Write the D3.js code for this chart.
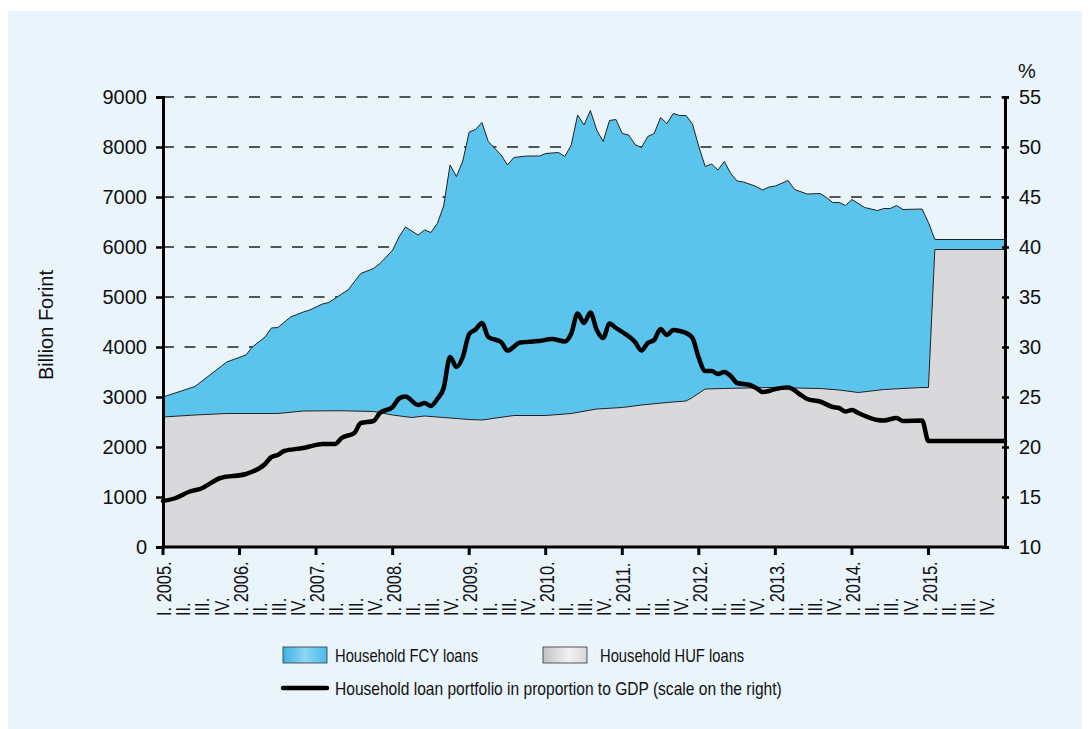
<!DOCTYPE html>
<html>
<head>
<meta charset="utf-8">
<script src="https://cdn.jsdelivr.net/npm/d3@7"></script>
<style>
  body { margin: 0; background: #fff; }
  svg { display: block; }
  .tick-label { font-family: "Liberation Sans", Arial, sans-serif; font-size: 20px; fill: #111; }
  .narrow { font-family: "Liberation Sans", Arial, sans-serif; fill: #111; }
</style>
</head>
<body>
<svg id="chart" width="1090" height="729"></svg>
<script>
// household loans, billion forint (FCY + HUF stacked -> total)
const totalMonths = ["2005-01","2005-06","2005-11","2006-02","2006-03","2006-05","2006-06","2006-07","2006-09","2006-11","2006-12",
  "2007-02","2007-03","2007-05","2007-06","2007-08","2007-10","2007-11","2007-12",
  "2008-01","2008-02","2008-03","2008-05","2008-06","2008-07","2008-08","2008-09","2008-10","2008-11","2008-12",
  "2009-01","2009-02","2009-03","2009-04","2009-06","2009-07","2009-08","2009-10","2009-12",
  "2010-01","2010-03","2010-04","2010-05","2010-06","2010-07","2010-08","2010-09","2010-10","2010-11","2010-12",
  "2011-01","2011-02","2011-03","2011-04","2011-05","2011-06","2011-07","2011-08","2011-09","2011-10","2011-11","2011-12",
  "2012-01","2012-02","2012-03","2012-04","2012-05","2012-06","2012-07","2012-08","2012-10","2012-11","2012-12",
  "2013-01","2013-03","2013-04","2013-06","2013-08","2013-09","2013-10","2013-11","2013-12",
  "2014-01","2014-03","2014-05","2014-06","2014-07","2014-08","2014-09","2014-12",
  "2015-01","2015-02","2016-01"];
const totalValues = [3000,3210,3700,3840,4000,4200,4380,4390,4600,4700,4740,
  4860,4890,5060,5140,5470,5570,5670,5800,
  5940,6200,6400,6240,6340,6290,6470,6820,7640,7410,7720,
  8300,8350,8490,8110,7840,7640,7790,7820,7820,
  7870,7890,7810,8040,8640,8440,8730,8340,8110,8530,8550,
  8270,8240,8050,7990,8210,8270,8590,8470,8670,8630,8630,8460,
  8010,7610,7660,7540,7710,7470,7320,7300,7210,7140,7200,
  7220,7330,7150,7060,7070,6990,6890,6890,6830,
  6950,6790,6730,6770,6770,6830,6750,6760,
  6490,6150,6150];

const hufMonths = ["2005-01","2005-06","2005-11","2006-07","2006-11","2007-05","2007-10","2008-01","2008-04","2008-06",
  "2009-01","2009-03","2009-08","2010-01","2010-05","2010-09","2011-01","2011-04","2011-08","2011-11","2011-12",
  "2012-02","2012-05","2012-12","2013-08","2013-11","2014-02","2014-06","2014-12","2015-01","2015-02","2016-01"];
const hufValues = [2600,2640,2670,2670,2720,2725,2710,2640,2590,2620,
  2550,2540,2630,2630,2670,2760,2790,2840,2890,2920,2990,
  3160,3170,3190,3170,3140,3090,3150,3190,3190,5950,5950];

// household loan portfolio / GDP, % (right scale)
const gdpMonths = ["2005-01","2005-03","2005-05","2005-07","2005-10","2006-02","2006-05","2006-06","2006-07","2006-08","2006-11","2006-12",
  "2007-02","2007-04","2007-05","2007-07","2007-08","2007-10","2007-11",
  "2008-01","2008-02","2008-03","2008-05","2008-06","2008-07","2008-08","2008-09","2008-10","2008-11","2008-12",
  "2009-01","2009-02","2009-03","2009-04","2009-06","2009-07","2009-09","2009-12",
  "2010-02","2010-04","2010-05","2010-06","2010-07","2010-08","2010-09","2010-10","2010-11","2010-12",
  "2011-01","2011-03","2011-04","2011-05","2011-06","2011-07","2011-08","2011-09","2011-10","2011-11","2011-12",
  "2012-01","2012-02","2012-03","2012-04","2012-05","2012-06","2012-07","2012-09","2012-10","2012-11","2012-12",
  "2013-01","2013-03","2013-05","2013-06","2013-08","2013-10","2013-11","2013-12",
  "2014-01","2014-02","2014-05","2014-06","2014-08","2014-09","2014-12","2015-01","2016-01"];
const gdpValues = [14.6,14.9,15.5,15.85,16.9,17.3,18.3,19.0,19.2,19.6,19.9,20.05,
  20.3,20.3,20.9,21.4,22.4,22.6,23.4,
  24.0,24.85,25.05,24.2,24.4,24.1,24.8,25.9,29.0,28.0,29.0,
  31.3,31.75,32.4,31.0,30.5,29.65,30.45,30.6,
  30.8,30.55,31.35,33.35,32.4,33.45,31.7,30.9,32.35,31.9,
  31.5,30.5,29.65,30.4,30.7,31.8,31.2,31.7,31.6,31.4,30.9,
  28.9,27.6,27.6,27.3,27.5,27.1,26.4,26.2,25.9,25.5,25.6,
  25.8,25.95,25.2,24.8,24.55,24.0,23.9,23.55,
  23.7,23.4,22.7,22.65,22.9,22.6,22.65,20.6,20.6];

const years = ["2005","2006","2007","2008","2009","2010","2011","2012","2013","2014","2015"];
const quarters = ["I.","II.","III.","IV."];
const leftTicks = [0,1000,2000,3000,4000,5000,6000,7000,8000,9000];
const rightTicks = [10,15,20,25,30,35,40,45,50,55];

// "YYYY-MM" -> month index from Jan 2005
function monthIndex(s) {
  const [y, m] = s.split("-").map(Number);
  return (y - 2005) * 12 + (m - 1);
}

const NARROW = 0.82; // condensed look of the original type

const svg = d3.select("#chart");

svg.append("rect").attr("x", 8).attr("y", 11).attr("width", 1074).attr("height", 718).attr("fill", "#e9f4fb");

const x = d3.scaleLinear().domain([0, 132]).range([163, 1005]);
const y = d3.scaleLinear().domain([0, 9000]).range([547, 97]);
const yr = d3.scaleLinear().domain([10, 55]).range([547, 97]);

const total = totalMonths.map((m, i) => ({ m: monthIndex(m), v: totalValues[i] }));
const huf = hufMonths.map((m, i) => ({ m: monthIndex(m), v: hufValues[i] }));
const gdp = gdpMonths.map((m, i) => ({ m: monthIndex(m), v: gdpValues[i] }));

// dashed grid
svg.append("g").selectAll("line").data(leftTicks.filter(d => d > 0)).join("line")
  .attr("x1", x(0)).attr("x2", x(132))
  .attr("y1", d => y(d)).attr("y2", d => y(d))
  .attr("stroke", "#222").attr("stroke-width", 1.3).attr("stroke-dasharray", "11 10.5");

// areas
const area = d3.area().x(d => x(d.m)).y0(y(0)).y1(d => y(d.v));
const topLine = d3.line().x(d => x(d.m)).y(d => y(d.v));

svg.append("path").datum(total).attr("d", area).attr("fill", "#5bc4ec");
svg.append("path").datum(total).attr("d", topLine).attr("fill", "none").attr("stroke", "#222").attr("stroke-width", 1);
svg.append("path").datum(huf).attr("d", area).attr("fill", "#d9d9db");
svg.append("path").datum(huf).attr("d", topLine).attr("fill", "none").attr("stroke", "#222").attr("stroke-width", 1);

// GDP ratio line
const gdpLine = d3.line().x(d => x(d.m)).y(d => yr(d.v)).curve(d3.curveMonotoneX);
svg.append("path").datum(gdp).attr("d", gdpLine).attr("fill", "none")
  .attr("stroke", "#000").attr("stroke-width", 4.5).attr("stroke-linejoin", "round").attr("stroke-linecap", "round");

// axes
const leftAxis = d3.axisLeft(y).tickValues(leftTicks).tickFormat(d3.format("d")).tickSize(7).tickPadding(9);
const gl = svg.append("g").attr("transform", `translate(${x(0)},0)`).call(leftAxis);
const rightAxis = d3.axisRight(yr).tickValues(rightTicks).tickFormat(d3.format("d")).tickSize(4).tickPadding(10);
const gr = svg.append("g").attr("transform", `translate(${x(132)},0)`).call(rightAxis);
[gl, gr].forEach(g => {
  g.attr("font-family", null).attr("font-size", null);
  g.select(".domain").attr("stroke", "#000").attr("stroke-width", 3);
  g.selectAll(".tick line").attr("stroke", "#000").attr("stroke-width", 2.5);
  g.selectAll(".tick text").attr("class", "tick-label").attr("fill", "#111");
});
gr.selectAll(".tick line").attr("x1", -3);

// bottom axis line + year ticks
svg.append("line").attr("x1", x(0) - 1.5).attr("x2", x(132) + 1.5).attr("y1", y(0)).attr("y2", y(0))
  .attr("stroke", "#000").attr("stroke-width", 3);
svg.append("g").selectAll("line").data(years).join("line")
  .attr("x1", (d, i) => x(i * 12)).attr("x2", (d, i) => x(i * 12))
  .attr("y1", y(0)).attr("y2", y(0) + 8)
  .attr("stroke", "#000").attr("stroke-width", 3);

// quarter labels
const qLabels = [];
years.forEach((yy, i) => quarters.forEach((q, j) => {
  qLabels.push({ m: i * 12 + j * 3, text: j === 0 ? `${q} ${yy}.` : q });
}));
svg.append("g").selectAll("text").data(qLabels).join("text")
  .attr("class", "narrow")
  .attr("transform", d => `translate(${x(d.m) + 1},616) rotate(-90) scale(${NARROW},1)`)
  .attr("dy", "0.36em")
  .attr("font-size", 20)
  .text(d => d.text);

// axis titles
svg.append("text").attr("class", "tick-label").attr("text-anchor", "middle")
  .attr("transform", "translate(53,325) rotate(-90)").text("Billion Forint");
svg.append("text").attr("class", "tick-label").attr("x", 1018).attr("y", 78).text("%");

// legend
const defs = svg.append("defs");
const gb = defs.append("linearGradient").attr("id", "gBlue");
gb.append("stop").attr("offset", "0%").attr("stop-color", "#3cb2e5");
gb.append("stop").attr("offset", "50%").attr("stop-color", "#8ed6f3");
gb.append("stop").attr("offset", "100%").attr("stop-color", "#4bbbea");
const gg = defs.append("linearGradient").attr("id", "gGray");
gg.append("stop").attr("offset", "0%").attr("stop-color", "#c2c2c2");
gg.append("stop").attr("offset", "60%").attr("stop-color", "#f1f1f1");
gg.append("stop").attr("offset", "100%").attr("stop-color", "#d6d6d6");

function legendText(g, tx, ty, str, stretch) {
  g.append("text").attr("class", "narrow").attr("font-size", 18)
    .attr("transform", `translate(${tx},${ty}) scale(${stretch || NARROW},1)`).text(str);
}

const legend = svg.append("g");
legend.append("rect").attr("x", 283).attr("y", 647).attr("width", 44).attr("height", 16)
  .attr("fill", "url(#gBlue)").attr("stroke", "#333").attr("stroke-width", 0.8);
legendText(legend, 335, 662, "Household FCY loans");
legend.append("rect").attr("x", 543).attr("y", 647).attr("width", 44).attr("height", 16)
  .attr("fill", "url(#gGray)").attr("stroke", "#333").attr("stroke-width", 0.8);
legendText(legend, 600, 662, "Household HUF loans");
legend.append("line").attr("x1", 283).attr("x2", 327).attr("y1", 688).attr("y2", 688)
  .attr("stroke", "#000").attr("stroke-width", 4.5).attr("stroke-linecap", "round");
legendText(legend, 335, 695, "Household loan portfolio in proportion to GDP (scale on the right)", 0.865);
</script>
</body>
</html>
